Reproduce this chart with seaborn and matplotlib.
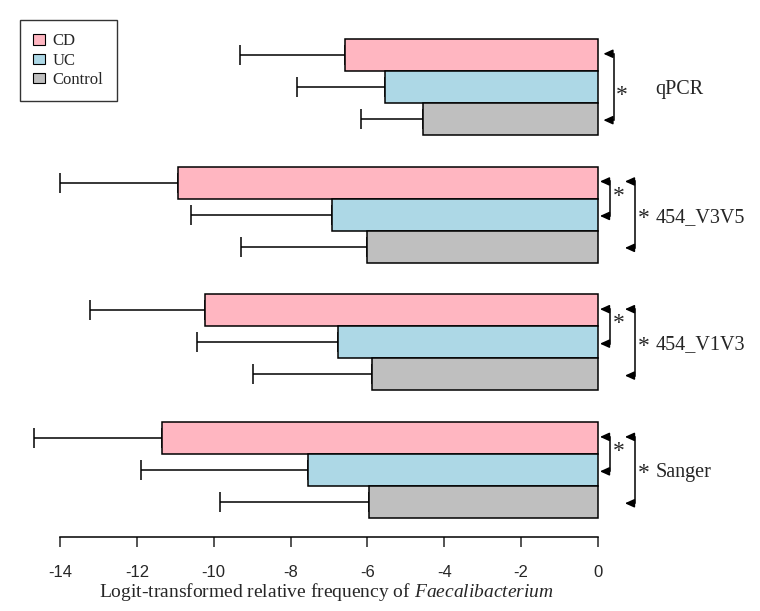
import pandas as pd
import matplotlib
matplotlib.use("Agg")
import matplotlib.pyplot as plt
import matplotlib.patches as mpatches
import seaborn as sns

# 데이터
methods = ["qPCR", "454_V3V5", "454_V1V3", "Sanger"]
groups = ["CD", "UC", "Control"]
means_cd = [-6.58, -10.92, -10.22, -11.34]
means_uc = [-5.54, -6.91, -6.77, -7.56]
means_ctrl = [-4.55, -6.00, -5.87, -5.95]
sd_cd = [2.73, 3.08, 2.99, 3.33]
sd_uc = [2.30, 3.67, 3.66, 4.32]
sd_ctrl = [1.62, 3.28, 3.10, 3.88]
# 유의한 비교 (방법, 위쪽 그룹, 아래쪽 그룹)
comparisons = [
    ("qPCR", "CD", "Control"),
    ("454_V3V5", "CD", "UC"),
    ("454_V3V5", "CD", "Control"),
    ("454_V1V3", "CD", "UC"),
    ("454_V1V3", "CD", "Control"),
    ("Sanger", "CD", "UC"),
    ("Sanger", "CD", "Control"),
]

colors = ["#FFB6C1", "#ADD8E6", "#BFBFBF"]

rows = []
for g, m_list, s_list in zip(groups, [means_cd, means_uc, means_ctrl], [sd_cd, sd_uc, sd_ctrl]):
    for meth, m, s in zip(methods, m_list, s_list):
        rows.append({"method": meth, "group": g, "value": m, "sd": s})
df = pd.DataFrame(rows)

sns.set_style("white")
plt.rcParams["mathtext.fontset"] = "custom"
plt.rcParams["mathtext.rm"] = "Liberation Serif"
plt.rcParams["mathtext.it"] = "Liberation Serif:italic"

fig = plt.figure(figsize=(7.6, 6.11), dpi=100)
# 축 위치: x=-15 -> 21.6px, x=1.35 -> 650px
ax = fig.add_axes([21.6 / 760, 74 / 611, 628.3 / 760, 537 / 611])

sns.barplot(data=df, x="value", y="method", hue="group", order=methods,
            hue_order=groups, palette=colors, width=0.75, errorbar=None,
            edgecolor="black", linewidth=1.1, saturation=1, legend=False, ax=ax)

# 오차 막대 (왼쪽으로만)
bar_w = 0.75 / len(groups)
for i, g in enumerate(groups):
    sub = df[df["group"] == g].set_index("method").loc[methods]
    ys = [j + (i - 1) * bar_w for j in range(len(methods))]
    ax.errorbar(sub["value"], ys, xerr=[sub["sd"], [0] * len(methods)],
                fmt="none", ecolor="black", elinewidth=1.1, capsize=7.2,
                capthick=1.1, zorder=0.5)

# 유의성 괄호
for meth in methods:
    comps = [c for c in comparisons if c[0] == meth]
    j = methods.index(meth)
    for level, (_, g1, g2) in enumerate(comps):
        y1 = j + (groups.index(g1) - 1) * bar_w - 0.01
        y2 = j + (groups.index(g2) - 1) * bar_w + 0.01
        if len(comps) == 1:
            tip, line_x, star_x, star_dy = 0.14, 0.42, 0.62, 0.07
        else:
            tip = [0.05, 0.70][level]
            line_x = tip + 0.25
            star_x = line_x + 0.23
            star_dy = [-0.02, 0.03][level]
        ax.plot([tip + 0.1, line_x, line_x, tip + 0.1], [y1, y1, y2, y2],
                color="black", lw=1.1, solid_joinstyle="miter")
        for yy in (y1, y2):
            ax.annotate("", xy=(tip, yy), xytext=(tip + 0.2, yy),
                        arrowprops=dict(arrowstyle="-|>,head_length=0.55,head_width=0.25",
                                        color="black", lw=1.1,
                                        shrinkA=0, shrinkB=0, mutation_scale=10))
        ax.text(star_x, (y1 + y2) / 2 + star_dy, "*", fontsize=17,
                family="Liberation Serif", ha="center", va="center")

ax.set_xlim(-15, 1.35)
ax.set_ylim(3.524, -0.681)
ax.set_xticks(range(-14, 1, 2))
ax.set_xticklabels([str(t) for t in range(-14, 1, 2)], family="Liberation Sans", fontsize=12)
ax.tick_params(axis="x", direction="out", length=7.2, width=1.1, pad=13, bottom=True)
ax.yaxis.tick_right()
ax.tick_params(axis="y", length=0, pad=4)
ax.set_yticklabels(methods, family="Liberation Serif", fontsize=14.5)
ax.set_ylabel("")
for side in ["left", "top", "right"]:
    ax.spines[side].set_visible(False)
ax.spines["bottom"].set_bounds(-14, 0)
ax.spines["bottom"].set_linewidth(1.1)
ax.spines["bottom"].set_color("black")

ax.set_xlabel(r"Logit-transformed relative frequency of $\mathit{Faecalibacterium}$",
              family="Liberation Serif", fontsize=14, labelpad=1)
ax.xaxis.label.set_x((326 - 21.6) / 628.3)

handles = [mpatches.Patch(facecolor=c, edgecolor="black", linewidth=0.8, label=g)
           for g, c in zip(groups, colors)]
leg = fig.legend(handles=handles, loc="upper left", bbox_to_anchor=(20 / 760, 1 - 20 / 611),
                 prop={"family": "Liberation Serif", "size": 12}, frameon=True,
                 fancybox=False, shadow=False, borderpad=0.8, labelspacing=0.2,
                 handlelength=0.72, handleheight=0.6, handletextpad=0.45,
                 borderaxespad=0)
leg.get_frame().set_edgecolor("black")
leg.get_frame().set_linewidth(1.0)

plt.savefig("out.png", dpi=100)
